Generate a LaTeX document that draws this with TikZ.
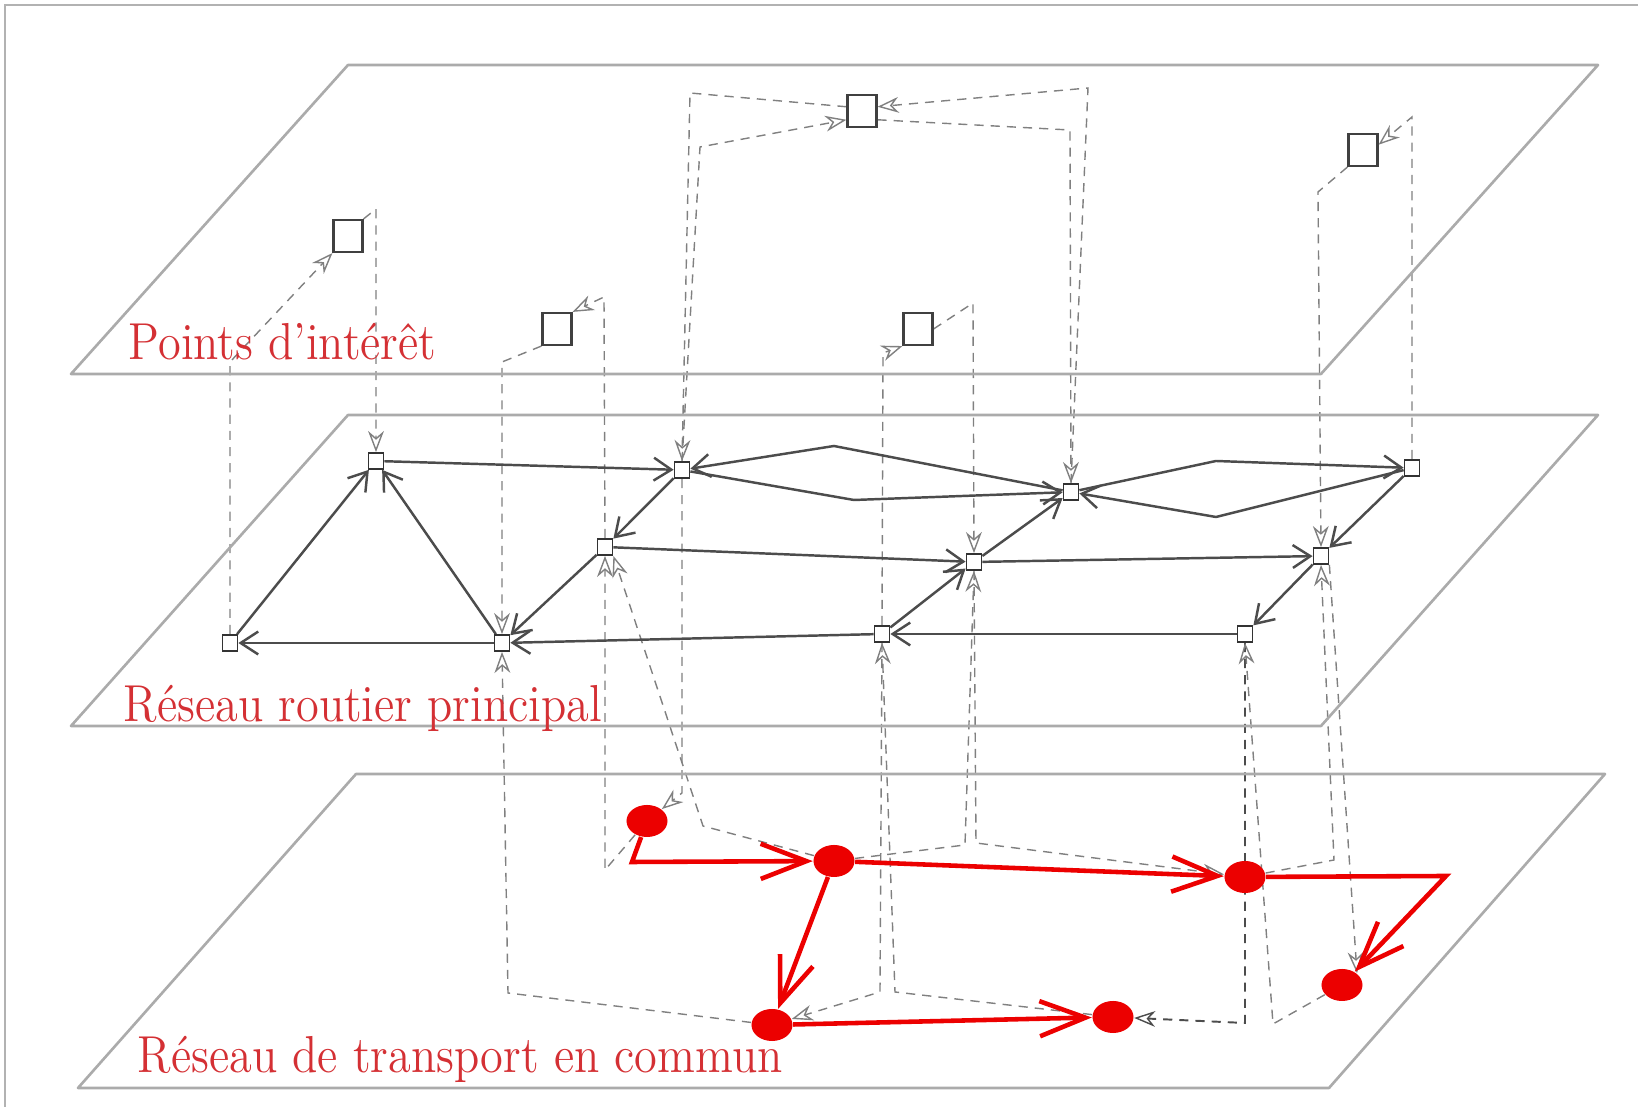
\documentclass[tikz,border=0pt]{standalone}
\usetikzlibrary{arrows.meta,shapes.geometric}
\definecolor{tred}{RGB}{236,0,0}
\definecolor{lred}{RGB}{212,48,52}
\pgfdeclarelayer{bg}
\pgfsetlayers{bg,main}
\begin{document}
\begin{tikzpicture}[x=0.01cm,y=-0.01cm,
  plane/.style={draw=black!33, line width=0.75pt, line join=round},
  poi/.style={rectangle, draw=black!75, line width=0.6pt, minimum width=0.29cm, minimum height=0.32cm, inner sep=0pt},
  rnode/.style={rectangle, draw=black!80, fill=white, line width=0.5pt, minimum width=0.15cm, minimum height=0.16cm, inner sep=0pt},
  tnode/.style={ellipse, fill=tred, minimum width=0.41cm, minimum height=0.32cm, inner sep=0pt},
  road/.style={draw=black!70, line width=0.7pt, -{Straight Barb[length=5pt,width=6.5pt,line width=0.7pt]}},
  ptline/.style={draw=tred, line width=1.3pt, -{Straight Barb[length=13pt,width=10pt,line width=1.3pt]}},
  link/.style={draw=black!50, line width=0.4pt, dash pattern=on 2.6pt off 2pt},
  linkarr/.style={link, -{Stealth[open,length=6pt,width=4.5pt,line width=0.4pt]}},
  darklink/.style={linkarr, draw=black!70, line width=0.55pt},
  lbl/.style={anchor=base west, inner sep=0pt, text=lred, font=\fontsize{13.2}{16}\selectfont}]
\useasboundingbox (0,0) rectangle (1638,1107);
% frame
\draw[black!30, line width=0.5pt] (5,1107) -- (5,5) -- (1638,5);
% planes
\draw[plane] (348,65) -- (1598,65) -- (1321,374) -- (71,374) -- cycle;
\draw[plane] (348,415) -- (1598,415) -- (1321,726) -- (71,726) -- cycle;
\draw[plane] (356,774) -- (1605,774) -- (1329,1088) -- (78,1088) -- cycle;
% labels
\node[lbl] (L1) at (128,360) {\scalebox{1}[1.12]{Points d’intérêt}};
\node[lbl] (L2) at (123,722) {\scalebox{1}[1.12]{Réseau routier principal}};
\node[lbl] (L3) at (137,1073) {\scalebox{1}[1.12]{Réseau de transport en commun}};
% points of interest
\node[poi] (P1) at (348,236) {};
\node[poi] (P2) at (557,329) {};
\node[poi] (P3) at (862,111) {};
\node[poi] (P4) at (918,329) {};
\node[poi] (P5) at (1363,150) {};
% road nodes
\node[rnode] (R1) at (376,461) {};
\node[rnode] (R2) at (682,470) {};
\node[rnode] (R3) at (605,547) {};
\node[rnode] (R4) at (230,643) {};
\node[rnode] (R5) at (502,643) {};
\node[rnode] (R6) at (1071,492) {};
\node[rnode] (R7) at (1412,468) {};
\node[rnode] (R8) at (974,562) {};
\node[rnode] (R9) at (1321,556) {};
\node[rnode] (R10) at (882,634) {};
\node[rnode] (R11) at (1245,634) {};
% transit stops
\node[tnode] (B1) at (647,821) {};
\node[tnode] (B2) at (834,861) {};
\node[tnode] (B3) at (1245,877) {};
\node[tnode] (B4) at (772,1025) {};
\node[tnode] (B5) at (1113,1017) {};
\node[tnode] (B6) at (1342,985) {};
% bend coordinates
\coordinate (d1) at (834,446);
\coordinate (d2) at (854,500);
\coordinate (d3) at (1216,461);
\coordinate (d4) at (1216,517);
\coordinate (b1c) at (632,862);
\coordinate (b3c) at (1446,876);
\coordinate (c1) at (376,209);
\coordinate (c2) at (230,362);
\coordinate (c3) at (604,297);
\coordinate (c4) at (502,362);
\coordinate (c5) at (690,93);
\coordinate (c6) at (700,147);
\coordinate (c7) at (1070,130);
\coordinate (c8) at (1088,88);
\coordinate (c9) at (883,353);
\coordinate (c10) at (973,303);
\coordinate (c11) at (1412,117);
\coordinate (c12) at (1318,192);
\coordinate (c13) at (682,793);
\coordinate (c14) at (605,870);
\coordinate (c15) at (703,826);
\coordinate (c16) at (965,845);
\coordinate (c17) at (976,843);
\coordinate (c18) at (880,992);
\coordinate (c19) at (895,992);
\coordinate (c20) at (508,993);
\coordinate (c21) at (1245,1023);
\coordinate (c22) at (1273,1024);
\coordinate (c24) at (1334,860);
\begin{pgfonlayer}{bg}
% inter-layer links
\draw[linkarr] (P1.north east) -- (c1) -- (R1.north);
\draw[linkarr] (R4.north) -- (c2) -- (P1.south west);
\draw[linkarr] (R3.north) -- (c3) -- (P2.north east);
\draw[linkarr] (P2.south west) -- (c4) -- (R5.north);
\draw[linkarr] ([yshift=1.2pt]P3.west) -- (c5) -- (R2.north);
\draw[linkarr] (R2.north) -- (c6) -- ([yshift=-2.5pt]P3.west);
\draw[linkarr] ([yshift=-2.5pt]P3.east) -- (c7) -- (R6.north);
\draw[linkarr] (R6.north) -- (c8) -- ([yshift=1.2pt]P3.east);
\draw[linkarr] (R10.north) -- (c9) -- (P4.south west);
\draw[linkarr] (P4.east) -- (c10) -- (R8.north);
\draw[linkarr] (R7.north) -- (c11) -- ([yshift=1.5pt]P5.east);
\draw[linkarr] (P5.south west) -- (c12) -- (R9.north);
\draw[linkarr] (R2.south) -- (c13) -- (B1);
\draw[linkarr] (B1) -- (c14) -- (R3.south);
\draw[linkarr] (B2) -- (c15) -- (R3.south east);
\draw[linkarr] (B2) -- (c16) -- (R8.south);
\draw[linkarr] (R8.south) -- (c17) -- (B3);
\draw[linkarr] (R10.south) -- (c18) -- (B4);
\draw[linkarr] (B5) -- (c19) -- (R10.south);
\draw[linkarr] (B4) -- (c20) -- (R5.south);
\draw[darklink] (R11.south) -- (c21) -- (B5);
\draw[linkarr] (B6) -- (c22) -- (R11.south);
\draw[linkarr] (R9.south east) -- (B6.north east);
\draw[linkarr] (B3) -- (c24) -- (R9.south);
% road network
\draw[road] (R1) -- (R2);
\draw[road] (R4) -- (R1);
\draw[road] (R5) -- (R1);
\draw[road] (R5) -- (R4);
\draw[road] (R2) -- (R3);
\draw[road] (R3) -- (R5);
\draw[road] (R10) -- (R5);
\draw[road] (R3) -- (R8);
\draw[road] (R10) -- (R8);
\draw[road] (R8) -- (R6);
\draw[road] (R8) -- (R9);
\draw[road] (R7) -- (R9);
\draw[road] (R9) -- (R11);
\draw[road] (R11) -- (R10);
\draw[road] (R6) -- (d1) -- (R2);
\draw[road] (R2) -- (d2) -- (R6);
\draw[road] (R6) -- (d3) -- (R7);
\draw[road] (R7) -- (d4) -- (R6);
% transit lines
\draw[ptline] (B1) -- (b1c) -- (B2);
\draw[ptline] (B2) -- (B4);
\draw[ptline] (B2) -- (B3);
\draw[ptline] (B3) -- (b3c) -- (B6);
\draw[ptline] (B4) -- (B5);
\end{pgfonlayer}
\end{tikzpicture}
\end{document}
